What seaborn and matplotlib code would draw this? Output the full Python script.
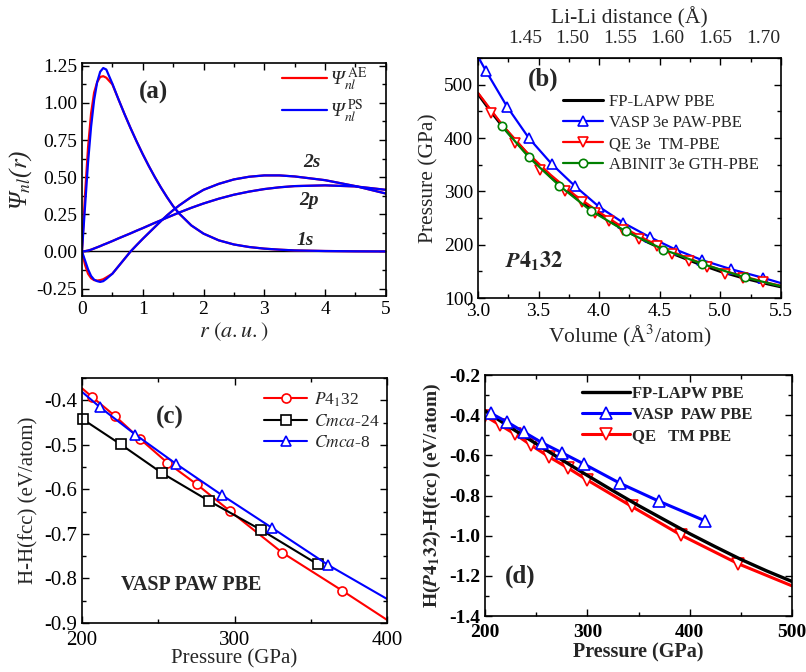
import matplotlib
matplotlib.use('Agg')
import matplotlib.pyplot as plt
from matplotlib.lines import Line2D
from matplotlib.ticker import MultipleLocator, AutoMinorLocator
import seaborn as sns

# ---------------- (a) radial wave functions of Li ----------------
r = [0, 0.05, 0.1, 0.15, 0.2, 0.25, 0.3, 0.35, 0.4, 0.5, 0.6, 0.7, 0.8, 0.9,
     1.0, 1.1, 1.2, 1.3, 1.4, 1.5, 1.6, 1.8, 2.0, 2.25, 2.5, 2.75, 3.0, 3.25,
     3.5, 4.0, 4.5, 5.0]
psi_1s_ps = [0, 0.30, 0.60, 0.84, 1.02, 1.14, 1.21, 1.235, 1.225, 1.13, 1.025,
             0.925, 0.83, 0.74, 0.655, 0.575, 0.50, 0.43, 0.365, 0.305, 0.255,
             0.175, 0.12, 0.075, 0.047, 0.03, 0.019, 0.012, 0.007, 0.003,
             0.001, 0.0]
psi_1s_ae = [0, 0.38, 0.70, 0.93, 1.07, 1.14, 1.175, 1.18, 1.17, 1.125, 1.025,
             0.925, 0.83, 0.74, 0.655, 0.575, 0.50, 0.43, 0.365, 0.305, 0.255,
             0.175, 0.12, 0.075, 0.047, 0.03, 0.019, 0.012, 0.007, 0.003,
             0.001, 0.0]
psi_2s_ps = [0, -0.06, -0.12, -0.165, -0.19, -0.2, -0.205, -0.2, -0.185, -0.15,
             -0.10, -0.05, 0.0, 0.043, 0.085, 0.125, 0.165, 0.205, 0.243, 0.278,
             0.31, 0.367, 0.415, 0.455, 0.485, 0.503, 0.512, 0.512, 0.505,
             0.48, 0.44, 0.39]
psi_2s_ae = [0, -0.09, -0.15, -0.18, -0.193, -0.196, -0.193, -0.187, -0.175,
             -0.15, -0.10, -0.05, 0.0, 0.043, 0.085, 0.125, 0.165, 0.205, 0.243,
             0.278, 0.31, 0.367, 0.415, 0.455, 0.485, 0.503, 0.512, 0.512,
             0.505, 0.48, 0.44, 0.39]
psi_2p = [0, 0.002, 0.006, 0.012, 0.02, 0.028, 0.036, 0.045, 0.053, 0.07, 0.088,
          0.105, 0.122, 0.14, 0.157, 0.175, 0.193, 0.21, 0.228, 0.245, 0.262,
          0.294, 0.323, 0.355, 0.382, 0.403, 0.42, 0.432, 0.44, 0.445, 0.438,
          0.415]

# ---------------- (b) P(V) of P4_132 ----------------
fp_V = [3.0, 3.1, 3.2, 3.3, 3.4, 3.5, 3.6, 3.7, 3.8, 3.9, 4.0, 4.2, 4.4, 4.6,
        4.8, 5.0, 5.2, 5.4, 5.5]
fp_P = [483, 452, 423, 397, 372, 349, 328, 308, 290, 273, 257, 229, 205, 184,
        166, 150, 137, 126, 121]
vasp_V = [3.0, 3.066, 3.24, 3.42, 3.61, 3.80, 4.0, 4.2, 4.42, 4.63, 4.85,
          5.09, 5.35, 5.5]
vasp_P = [553, 526, 459, 400, 351, 310, 271, 241, 214, 191, 171, 154, 138, 128]
qe_line_V = [3.0, 3.2, 3.4, 3.6, 3.8, 4.0, 4.2, 4.4, 4.6, 4.8, 5.0, 5.2, 5.4, 5.5]
qe_line_P = [485, 425, 374, 331, 293, 261, 232, 208, 187, 169, 153, 140, 128, 123]
qe_V = [3.107, 3.305, 3.51, 3.72, 3.855, 3.965, 4.08, 4.2, 4.33, 4.475, 4.6,
        4.745, 4.887, 5.04, 5.19, 5.35]
qe_P = [447, 390, 340, 300, 281, 259, 244, 228, 210, 198, 183, 170, 159, 146,
        137, 130]
abinit_V = [3.195, 3.42, 3.67, 3.93, 4.22, 4.53, 4.85, 5.20, 5.5]
abinit_P = [423, 364, 311, 264, 225, 191, 164, 139, 122]
lili_ticks = [1.45, 1.50, 1.55, 1.60, 1.65, 1.70]

# ---------------- (c) enthalpy vs fcc, VASP ----------------
p4_P = [200, 206.8, 221.9, 237.8, 255.9, 275.4, 296.8, 331.3, 370.7, 400]
p4_H = [-0.373, -0.393, -0.436, -0.486, -0.54, -0.589, -0.648, -0.742, -0.8275,
        -0.893]
c24_P = [200.7, 225.4, 252.7, 283.3, 317.4, 354.5]
c24_H = [-0.443, -0.499, -0.564, -0.626, -0.691, -0.768]
c8_P = [200, 211.6, 235, 261.4, 291.8, 324.4, 361.5, 400]
c8_H = [-0.381, -0.415, -0.477, -0.542, -0.613, -0.686, -0.77, -0.846]

# ---------------- (d) enthalpy of P4_132 vs fcc, three codes ----------------
lapw_P = [200, 225, 250, 275, 300, 325, 350, 375, 400, 425, 450, 475, 500]
lapw_H = [-0.378, -0.462, -0.542, -0.622, -0.70, -0.776, -0.85, -0.92, -0.99,
          -1.055, -1.118, -1.175, -1.228]
vpaw_P = [205.9, 221.2, 238.1, 255.7, 275.2, 296.7, 331.9, 370.3, 415]
vpaw_H = [-0.391, -0.4325, -0.484, -0.537, -0.587, -0.643, -0.739, -0.829, -0.926]
qetm_P = [200, 214.7, 229.3, 245, 262.5, 280.8, 300, 343.3, 391.5, 447.5, 500]
qetm_H = [-0.404, -0.449, -0.494, -0.549, -0.607, -0.662, -0.723, -0.854,
          -0.997, -1.14, -1.25]

sns.set_style('ticks')
plt.rcParams['font.family'] = ['Liberation Serif', 'DejaVu Serif']
plt.rcParams['mathtext.fontset'] = 'stix'
plt.rcParams['axes.unicode_minus'] = False

RED, BLUE, GREEN = '#ff0000', '#0000ff', '#008000'


def style_ax(ax, top=True, bold=False, xpad=3.5):
    ax.tick_params(which='both', direction='in', top=top, right=True,
                   labelsize=14, width=1, colors='black')
    ax.tick_params(which='major', length=5)
    ax.tick_params(which='minor', length=3)
    ax.tick_params(axis='x', pad=xpad)
    for s in ax.spines.values():
        s.set_linewidth(1.2)
        s.set_color('black')
    if bold:
        for lab in ax.get_xticklabels() + ax.get_yticklabels():
            lab.set_fontweight('bold')


def line(ax, x, y, color, lw=1.6, marker=None, ms=8, every=None, **kw):
    extra = {}
    if marker is not None:
        extra = dict(marker=marker, ms=ms, mfc='white', mec=color, mew=1.2)
        if every is not None:
            extra['markevery'] = every
    sns.lineplot(x=x, y=y, ax=ax, color=color, lw=lw, estimator=None,
                 sort=False, legend=False, **extra, **kw)


def handle(color, lw=1.6, marker=None, ms=8):
    return Line2D([], [], color=color, lw=lw, marker=marker, ms=ms,
                  mfc='white', mec=color, mew=1.2)


fig = plt.figure(figsize=(8.06, 6.72), dpi=100)

# ---------------- (a) ----------------
ax = fig.add_axes([0.1017, 0.5595, 0.377, 0.347])
ax.axhline(0, color='black', lw=1.0)
line(ax, r, psi_1s_ae, RED)
line(ax, r, psi_2s_ae, RED)
line(ax, r, psi_2p, RED)
line(ax, r, psi_1s_ps, BLUE)
line(ax, r, psi_2s_ps, BLUE)
line(ax, r, psi_2p, BLUE)
ax.set_xlim(0, 5)
ax.set_ylim(-0.3, 1.27)
ax.xaxis.set_major_locator(MultipleLocator(1))
ax.xaxis.set_minor_locator(AutoMinorLocator(2))
ax.yaxis.set_major_locator(MultipleLocator(0.25))
ax.yaxis.set_minor_locator(AutoMinorLocator(2))
ax.set_xlabel(r'$r\ (a.u.)$', fontsize=16, labelpad=2)
ax.set_ylabel('Ψ$_{nl}$($r$)', fontsize=18, style='italic', labelpad=2)
ax.text(1.18, 1.07, '(a)', fontsize=18, fontweight='bold', ha='center', va='center')
ax.text(3.79, 0.596, '2s', fontsize=14, fontweight='bold', style='italic', ha='center', va='center')
ax.text(3.74, 0.346, '2p', fontsize=14, fontweight='bold', style='italic', ha='center', va='center')
ax.text(3.68, 0.073, '1s', fontsize=14, fontweight='bold', style='italic', ha='center', va='center')
ax.legend([handle(RED), handle(BLUE)],
          [r'Ψ$_{nl}^{\ \mathrm{AE}}$', r'Ψ$_{nl}^{\ \mathrm{PS}}$'],
          loc='upper left', bbox_to_anchor=(0.659, 0.99), frameon=False,
          prop={'style': 'italic', 'size': 14}, handlelength=2.3,
          handletextpad=0.15, labelspacing=0.2, borderpad=0, borderaxespad=0)
style_ax(ax)

# ---------------- (b) ----------------
ax = fig.add_axes([0.593, 0.5565, 0.376, 0.357])
line(ax, fp_V, fp_P, 'black', lw=2.2)
line(ax, vasp_V, vasp_P, BLUE, marker='^', ms=7.5, every=slice(1, -1))
line(ax, qe_line_V, qe_line_P, RED)
line(ax, qe_V, qe_P, RED, lw=0, marker='v', ms=7)
line(ax, abinit_V, abinit_P, GREEN, marker='o', ms=6, every=slice(0, -1))
ax.set_xlim(3.0, 5.5)
ax.set_ylim(100, 550)
ax.xaxis.set_major_locator(MultipleLocator(0.5))
ax.xaxis.set_minor_locator(AutoMinorLocator(2))
ax.yaxis.set_major_locator(MultipleLocator(100))
ax.yaxis.set_minor_locator(AutoMinorLocator(2))
ax.set_xlabel(r'Volume (Å$^3$/atom)', fontsize=15.5, labelpad=2)
ax.set_ylabel('Pressure (GPa)', fontsize=15.5, labelpad=4)
ax.text(3.534, 510, '(b)', fontsize=18, fontweight='bold', ha='center', va='center')
ax.text(3.46, 168, r'$\mathbfit{P}\mathbf{4_{1}32}$', fontsize=16, ha='center', va='center')
ax.legend([handle('black', lw=2.2), handle(BLUE, marker='^', ms=7.5),
           handle(RED, marker='v', ms=7), handle(GREEN, marker='o', ms=6)],
          ['FP-LAPW PBE', 'VASP 3e PAW-PBE', 'QE 3e  TM-PBE', 'ABINIT 3e GTH-PBE'],
          loc='upper left', bbox_to_anchor=(0.28, 0.85), frameon=False,
          fontsize=12, handlelength=2.4, handletextpad=0.4, labelspacing=0.3,
          borderpad=0, borderaxespad=0)
style_ax(ax)
sec = ax.secondary_xaxis('top', functions=(lambda v: 1.45 + (v - 3.388) / 7.848,
                                           lambda d: 3.388 + (d - 1.45) * 7.848))
sec.set_xticks(lili_ticks)
sec.set_xticklabels([f'{t:.2f}' for t in lili_ticks])
sec.tick_params(direction='in', length=0, labelsize=14, pad=8)
sec.set_xlabel('Li-Li distance (Å)', fontsize=15.5, labelpad=5)

# ---------------- (c) ----------------
ax = fig.add_axes([0.1017, 0.0729, 0.3785, 0.3646])
line(ax, p4_P, p4_H, RED, lw=1.5, marker='o', ms=6.5, every=slice(1, -1))
line(ax, c24_P, c24_H, 'black', lw=1.5, marker='s', ms=6.5, clip_on=False)
line(ax, c8_P, c8_H, BLUE, lw=1.5, marker='^', ms=7.5, every=slice(1, -1))
ax.set_xlim(200, 400)
ax.set_ylim(-0.9, -0.35)
ax.xaxis.set_major_locator(MultipleLocator(100))
ax.xaxis.set_minor_locator(AutoMinorLocator(2))
ax.yaxis.set_major_locator(MultipleLocator(0.1))
ax.yaxis.set_minor_locator(AutoMinorLocator(2))
ax.set_xlabel('Pressure (GPa)', fontsize=15, labelpad=-1)
ax.set_ylabel('H-H(fcc) (eV/atom)', fontsize=15, labelpad=4)
ax.text(257.7, -0.438, '(c)', fontsize=18, fontweight='bold', ha='center', va='center')
ax.text(271.9, -0.815, 'VASP PAW PBE', fontsize=14.5, fontweight='bold', ha='center', va='center')
ax.legend([handle(RED, lw=1.5, marker='o', ms=6.5),
           handle('black', lw=1.5, marker='s', ms=6.5),
           handle(BLUE, lw=1.5, marker='^', ms=7.5)],
          [r'$P$4$_1$32', r'$Cmca$-24', r'$Cmca$-8'],
          loc='upper left', bbox_to_anchor=(0.598, 0.95), frameon=False,
          fontsize=12.5, handlelength=2.45, handletextpad=0.4, labelspacing=0.3,
          borderpad=0, borderaxespad=0)
style_ax(ax, xpad=6)
ax.tick_params(labelsize=15)

# ---------------- (d) ----------------
ax = fig.add_axes([0.6017, 0.0833, 0.381, 0.3586])
line(ax, qetm_P, qetm_H, RED, lw=2.2, marker='v', ms=8, every=slice(0, -1))
line(ax, lapw_P, lapw_H, 'black', lw=2.4)
line(ax, vpaw_P, vpaw_H, BLUE, lw=2.2, marker='^', ms=8)
ax.set_xlim(200, 500)
ax.set_ylim(-1.4, -0.2)
ax.xaxis.set_major_locator(MultipleLocator(100))
ax.xaxis.set_minor_locator(AutoMinorLocator(2))
ax.yaxis.set_major_locator(MultipleLocator(0.2))
ax.yaxis.set_minor_locator(AutoMinorLocator(2))
ax.set_xlabel('Pressure (GPa)', fontsize=14.5, fontweight='bold', labelpad=1)
ax.set_ylabel(r'H($\mathbfit{P}\mathbf{4_{1}32}$)-H(fcc) (eV/atom)', fontsize=14,
              fontweight='bold', labelpad=4)
ax.text(234.2, -1.204, '(d)', fontsize=18, fontweight='bold', ha='center', va='center')
ax.legend([handle('black', lw=2.4), handle(BLUE, lw=2.2, marker='^'),
           handle(RED, lw=2.2, marker='v')],
          ['FP-LAPW PBE', 'VASP  PAW PBE', 'QE   TM PBE'],
          loc='upper left', bbox_to_anchor=(0.315, 0.955), frameon=False,
          prop={'weight': 'bold', 'size': 12}, handlelength=2.9,
          handletextpad=0.1, labelspacing=0.3, borderpad=0, borderaxespad=0)
style_ax(ax, bold=True, xpad=6)

fig.savefig('out.png', dpi=100)
